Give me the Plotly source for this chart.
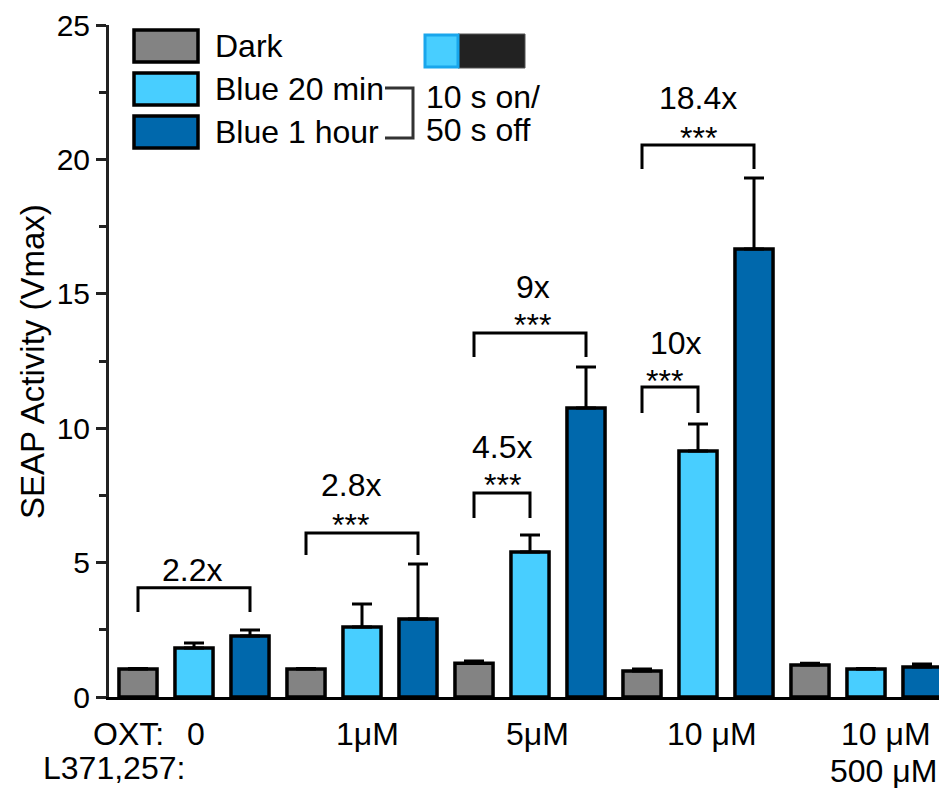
import plotly.graph_objects as go

# ---------------- data ----------------
series_names = ["Dark", "Blue 20 min", "Blue 1 hour"]
oxt_labels = ["0", "1μM", "5μM", "10 μM", "10 μM"]
antagonist_labels = ["", "", "", "", "500 μM"]

dark = [1.04, 1.04, 1.26, 0.97, 1.19]
dark_err = [0.02, 0.02, 0.08, 0.07, 0.07]
blue20 = [1.82, 2.60, 5.39, 9.15, 1.04]
blue20_err = [0.19, 0.86, 0.64, 1.01, 0.02]
blue1h = [2.27, 2.90, 10.75, 16.67, 1.12]
blue1h_err = [0.22, 2.05, 1.53, 2.64, 0.11]

# fold-change comparisons: (left bar index, right bar index, label, stars)
comparisons = [
    (0, 2, "2.2x", ""),
    (3, 5, "2.8x", "***"),
    (6, 7, "4.5x", "***"),
    (6, 8, "9x", "***"),
    (9, 10, "10x", "***"),
    (9, 11, "18.4x", "***"),
]
# bracket heights (top, leg end) and label heights in data units
bracket_top = [4.06, 6.10, 7.59, 13.54, 11.53, 20.54]
bracket_leg = [3.16, 5.28, 6.66, 12.65, 10.57, 19.64]
label_y = [4.72, 7.89, 9.30, 15.25, 13.17, 22.28]
star_y = [None, 6.70, 8.18, 14.14, 12.05, 21.09]
label_dx = [-0.04, -0.2, 0.0, 0.05, 0.1, 0.0]
star_dx = [0.0, -0.2, 0.0, 0.05, -0.1, 0.0]

colors = ["#838383", "#48CEFF", "#0068AC"]
FONT = "Liberation Sans, Arial, sans-serif"

# ---------------- layout geometry (pixels) ----------------
W, H = 939, 788
L, R, T, B = 109, 939, 25, 697


def px(x):
    return (x - L) / (R - L)


def py(y):
    return (B - y) / (B - T)


n_groups = len(dark)
fig = go.Figure()
for k, (name, vals, errs) in enumerate(
    [(series_names[0], dark, dark_err), (series_names[1], blue20, blue20_err), (series_names[2], blue1h, blue1h_err)]
):
    xs = [g * 3 + k for g in range(n_groups)]
    fig.add_trace(
        go.Bar(
            x=xs,
            y=vals,
            name=name,
            width=0.68,
            marker=dict(color=colors[k], line=dict(color="black", width=3.5)),
            error_y=dict(
                type="data",
                symmetric=False,
                array=errs,
                arrayminus=[0] * n_groups,
                color="black",
                thickness=3,
                width=10,
            ),
            showlegend=False,
        )
    )

shapes = []
annotations = []

# brackets
for i, (a, b, lab, stars) in enumerate(comparisons):
    shapes.append(
        dict(
            type="path",
            xref="x",
            yref="y",
            path=f"M {a} {bracket_leg[i]} L {a} {bracket_top[i]} L {b} {bracket_top[i]} L {b} {bracket_leg[i]}",
            line=dict(color="black", width=3),
        )
    )
    mid = (a + b) / 2
    annotations.append(
        dict(x=mid + label_dx[i], y=label_y[i], xref="x", yref="y", text=lab, showarrow=False,
             font=dict(size=32, color="black", family=FONT), xanchor="center", yanchor="middle")
    )
    if stars:
        annotations.append(
            dict(x=mid + star_dx[i], y=star_y[i], xref="x", yref="y", text=stars, showarrow=False,
                 font=dict(size=32, color="black", family=FONT), xanchor="center", yanchor="middle",
                 yshift=-8)
        )

# legend (custom)
leg_rows = [46, 89, 132]
for k, name in enumerate(series_names):
    yc = leg_rows[k]
    shapes.append(dict(type="rect", xref="paper", yref="paper",
                       x0=px(134), x1=px(198), y0=py(yc - 16), y1=py(yc + 16),
                       fillcolor=colors[k], line=dict(color="black", width=3.5)))
    annotations.append(dict(x=px(213), y=py(yc), xref="paper", yref="paper", text=name,
                            showarrow=False, xanchor="left", yanchor="middle",
                            font=dict(size=32, color="black", family=FONT)))

# bracket joining the two blue conditions
shapes.append(dict(type="path", xref="paper", yref="paper",
                   path=f"M {px(385)} {py(88)} L {px(413)} {py(88)} L {px(413)} {py(138)} L {px(385)} {py(138)}",
                   line=dict(color="#333333", width=3)))
# pulse illustration
shapes.append(dict(type="rect", xref="paper", yref="paper",
                   x0=px(458), x1=px(525), y0=py(68), y1=py(34),
                   fillcolor="#222222", line=dict(color="#555555", width=1)))
shapes.append(dict(type="rect", xref="paper", yref="paper",
                   x0=px(425), x1=px(458), y0=py(67), y1=py(35),
                   fillcolor="#48CEFF", line=dict(color="#19A6EC", width=3)))
annotations.append(dict(x=px(424), y=py(97), xref="paper", yref="paper", text="10 s on/",
                        showarrow=False, xanchor="left", yanchor="middle",
                        font=dict(size=32, color="black", family=FONT)))
annotations.append(dict(x=px(424), y=py(130), xref="paper", yref="paper", text="50 s off",
                        showarrow=False, xanchor="left", yanchor="middle",
                        font=dict(size=32, color="black", family=FONT)))

# category labels below the axis
oxt_x = [196, 367, 537, 712, 886]
for g in range(n_groups):
    annotations.append(dict(x=px(oxt_x[g]), y=py(734), xref="paper", yref="paper", text=oxt_labels[g],
                            showarrow=False, xanchor="center", yanchor="middle",
                            font=dict(size=32, color="black", family=FONT)))
    if antagonist_labels[g]:
        annotations.append(dict(x=px(883), y=py(771), xref="paper", yref="paper", text=antagonist_labels[g],
                                showarrow=False, xanchor="center", yanchor="middle",
                                font=dict(size=32, color="black", family=FONT)))
annotations.append(dict(x=px(91), y=py(734), xref="paper", yref="paper", text="OXT:",
                        showarrow=False, xanchor="left", yanchor="middle",
                        font=dict(size=32, color="black", family=FONT)))
annotations.append(dict(x=px(41), y=py(768), xref="paper", yref="paper", text="L371,257:",
                        showarrow=False, xanchor="left", yanchor="middle",
                        font=dict(size=32, color="black", family=FONT)))

# y axis title
annotations.append(dict(x=px(32), y=py(362), xref="paper", yref="paper", text="SEAP Activity (Vmax)",
                        textangle=-90, showarrow=False, xanchor="center", yanchor="middle",
                        font=dict(size=33, color="black", family=FONT)))

fig.update_layout(
    width=W,
    height=H,
    margin=dict(l=L, r=W - R, t=T, b=H - B, pad=0),
    paper_bgcolor="white",
    plot_bgcolor="white",
    barmode="overlay",
    shapes=shapes,
    annotations=annotations,
    font=dict(family=FONT, color="black"),
)
fig.update_xaxes(
    range=[(L - 138) / 56, (R - 138) / 56],
    showgrid=False,
    zeroline=False,
    showticklabels=False,
    ticks="",
    showline=True,
    linecolor="black",
    linewidth=3,
)
fig.update_yaxes(
    range=[0, 25],
    tickvals=[0, 5, 10, 15, 20, 25],
    showgrid=False,
    zeroline=False,
    showline=True,
    linecolor="#222222",
    linewidth=3,
    ticks="outside",
    ticklen=10,
    tickwidth=3,
    tickcolor="#222222",
    tickfont=dict(size=30, color="black", family=FONT),
    minor=dict(tickvals=[2.5, 7.5, 12.5, 17.5, 22.5], ticks="outside", ticklen=7, tickwidth=3, tickcolor="#222222"),
)

fig.write_html(
    "out.html",
    config={"displayModeBar": False},
    post_script="document.body.style.margin='0px';document.body.style.overflow='hidden';",
)
